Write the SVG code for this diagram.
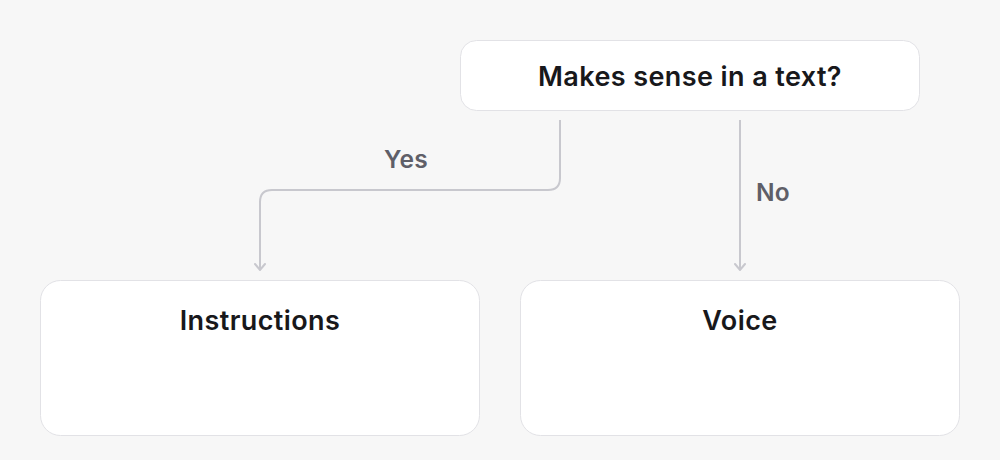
<svg xmlns="http://www.w3.org/2000/svg" width="1000" height="460" viewBox="0 0 1000 460">
<style>
.box{fill:#ffffff;stroke:#e2e2e6;stroke-width:1}
.title{font-family:Inter,"Liberation Sans",sans-serif;font-weight:600;font-size:27px;letter-spacing:0.4px;fill:#18181b;text-anchor:middle}
.lbl{font-family:Inter,"Liberation Sans",sans-serif;font-weight:600;font-size:24.5px;letter-spacing:0.3px;fill:#5f5f68;text-anchor:middle}
.edge{fill:none;stroke:#c8c8ce;stroke-width:2;marker-end:url(#arr)}
</style>
<defs>
<marker id="arr" viewBox="0 0 8 12" refX="7" refY="6" markerWidth="8" markerHeight="12" markerUnits="userSpaceOnUse" orient="auto">
<path d="M1 1 L7 6 L1 11" fill="none" stroke="#c8c8ce" stroke-width="2" stroke-linecap="round"/>
</marker>
</defs>
<rect x="0" y="0" width="1000" height="460" fill="#f7f7f7"/>
<g id="connectors">
<path class="edge" d="M560 120 V178 Q560 190 548 190 H272 Q260 190 260 202 V270"/>
<path class="edge" d="M740 120 V270"/>
<text class="lbl" x="406" y="168">Yes</text>
<text class="lbl" x="773" y="201">No</text>
</g>
<g id="question">
<rect class="box" x="460.5" y="40.5" width="459" height="70" rx="16"/>
<text class="title" x="690" y="86">Makes sense in a text?</text>
</g>
<g id="instructions">
<rect class="box" x="40.5" y="280.5" width="439" height="155" rx="20"/>
<text class="title" x="260" y="330">Instructions</text>
</g>
<g id="voice">
<rect class="box" x="520.5" y="280.5" width="439" height="155" rx="20"/>
<text class="title" x="740" y="330">Voice</text>
</g>
</svg>
